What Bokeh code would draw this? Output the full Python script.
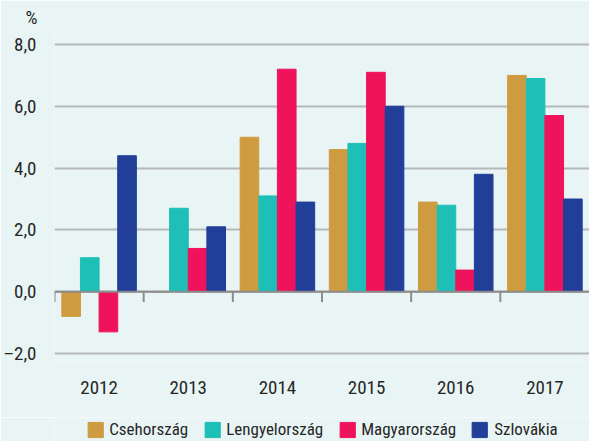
from bokeh.plotting import figure
from bokeh.layouts import column
from bokeh.models import ColumnDataSource, Range1d, FixedTicker, Legend, LegendItem, Span, Title
from bokeh.embed import file_html
from bokeh.resources import INLINE

years = ["2012", "2013", "2014", "2015", "2016", "2017"]
countries = ["Csehország", "Lengyelország", "Magyarország", "Szlovákia"]
cseh = [-0.8, 0.0, 5.0, 4.6, 2.9, 7.0]
lengyel = [1.1, 2.7, 3.1, 4.8, 2.8, 6.9]
magyar = [-1.3, 1.4, 7.2, 7.1, 0.7, 5.7]
szlovak = [4.4, 2.1, 2.9, 6.0, 3.8, 3.0]
y_ticks = [-2, 0, 2, 4, 6, 8]
y_tick_labels = ["–2,0", "0,0", "2,0", "4,0", "6,0", "8,0"]
unit_label = "%"
colors = ["#cf9b40", "#1dbfb7", "#ef135b", "#213e99"]

BG = "#e9f5f5"
FONT = "'Roboto Condensed', 'DejaVu Sans Condensed', sans-serif"
TEXT = "#262626"
FS = "19px"
FS_LEG = "17px"

p = figure(width=589, height=417, x_range=Range1d(0, len(years)), y_range=Range1d(-2.2265, 8.518),
           output_backend="svg", toolbar_location=None,
           min_border_left=54, min_border_right=0, min_border_top=28, min_border_bottom=57)
p.background_fill_color = BG
p.border_fill_color = BG
p.outline_line_color = None

# grid
p.xgrid.visible = False
p.ygrid.ticker = FixedTicker(ticks=y_ticks)
p.ygrid.grid_line_color = "#b5b8b9"
p.ygrid.grid_line_width = 2

bar_w = 0.209
sources = []
for k, (name, vals) in enumerate(zip(countries, [cseh, lengyel, magyar, szlovak])):
    xs = [i + 0.5 + (k - 1.5) * bar_w for i in range(len(years))]
    src = ColumnDataSource(dict(x=xs, top=vals))
    sources.append(src)
    p.vbar(x="x", top="top", bottom=0, width=bar_w, source=src,
           fill_color=colors[k], line_color=colors[k], line_width=1)

# zero line and category boundary ticks
p.add_layout(Span(location=0, dimension="width", line_color="#8c8c8c", line_width=2))
bx = list(range(len(years)))
p.segment(x0=bx, y0=[0] * len(bx), x1=bx, y1=[-0.33] * len(bx), line_color="#8c8c8c", line_width=2)

# y axis
ya = p.yaxis[0]
ya.ticker = FixedTicker(ticks=y_ticks)
ya.major_label_overrides = dict(zip(y_ticks, y_tick_labels))
ya.axis_line_color = None
ya.major_tick_line_color = None
ya.minor_tick_line_color = None
ya.major_label_standoff = 12
ya.major_label_text_font = FONT
ya.major_label_text_font_size = FS
ya.major_label_text_color = TEXT

# x axis
xa = p.xaxis[0]
centers = [i + 0.5 for i in range(len(years))]
xa.ticker = FixedTicker(ticks=centers)
xa.major_label_overrides = dict(zip(centers, years))
xa.axis_line_color = None
xa.major_tick_line_color = None
xa.minor_tick_line_color = None
xa.major_label_standoff = 14
xa.major_label_text_font = FONT
xa.major_label_text_font_size = FS
xa.major_label_text_color = TEXT

p.add_layout(Title(text=unit_label, align="left", offset=-29, standoff=0,
                   text_font=FONT, text_font_size=FS, text_color=TEXT,
                   text_font_style="normal"), "above")

# legend strip (same data sources, bars fall outside this strip's range)
p2 = figure(width=589, height=24, x_range=Range1d(0, len(years)), y_range=Range1d(100, 101),
            output_backend="svg", toolbar_location=None,
            x_axis_location=None, y_axis_location=None,
            min_border_left=0, min_border_right=0, min_border_top=0, min_border_bottom=0)
p2.background_fill_color = BG
p2.border_fill_color = BG
p2.outline_line_color = None
p2.grid.visible = False
items = []
for k, name in enumerate(countries):
    r = p2.vbar(x="x", top="top", bottom=0, width=bar_w, source=sources[k],
                fill_color=colors[k], line_color=colors[k], line_width=1)
    items.append(LegendItem(label=name, renderers=[r]))
legend = Legend(items=items, orientation="horizontal", location="center",
                glyph_width=19, glyph_height=19, label_standoff=5, spacing=14,
                padding=0, margin=0, background_fill_alpha=0, border_line_color=None,
                label_text_font=FONT, label_text_font_size=FS_LEG, label_text_color=TEXT,
                label_height=19)
p2.add_layout(legend)

layout = column(p, p2, spacing=0)
html = file_html(layout, INLINE)
html = html.replace("<body>", '<body style="background-color:#e9f5f5;">', 1)
open("out.html", "w").write(html)
